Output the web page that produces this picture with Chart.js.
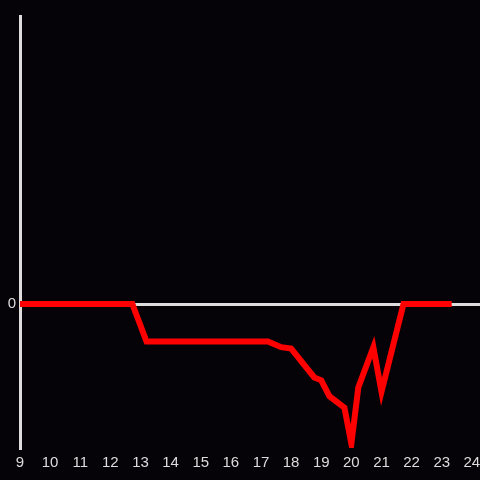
<!DOCTYPE html>
<html>
<head>
<meta charset="utf-8">
<script src="https://cdn.jsdelivr.net/npm/chart.js@4"></script>
<style>
    html, body { margin: 0; padding: 0; background: #050308; }
    #wrap { width: 480px; height: 480px; }
</style>
</head>
<body>
<div id="wrap"><canvas id="myChart"></canvas></div>
<script>
// hours of the day and the value read at each of them
const hours = [9, 12.73, 13.2, 17.23, 17.67, 18.0, 18.77, 19.0, 19.27, 19.77, 20.0, 20.23, 20.73, 21.0, 21.73, 23.33];
const values = [0, 0, -0.26, -0.26, -0.3, -0.31, -0.51, -0.53, -0.64, -0.72, -0.97, -0.58, -0.3, -0.61, 0, 0];
const xTicks = [9, 10, 11, 12, 13, 14, 15, 16, 17, 18, 19, 20, 21, 22, 23, 24];
const yTicks = [0];

const axisColor = '#dddddd';

let ctx = document.getElementById('myChart').getContext('2d');

let chart = new Chart(ctx, {
    type: 'line',
    data: {
        datasets: [{
            data: hours.map((h, i) => ({ x: h, y: values[i] })),
            borderColor: '#ff0000',
            borderWidth: 6,
            pointRadius: 0,
            tension: 0,
            fill: false
        }]
    },
    options: {
        responsive: true,
        maintainAspectRatio: false,
        animation: false,
        layout: {
            padding: { top: 16, right: 0, left: 0, bottom: 0 }
        },
        plugins: {
            legend: { display: false },
            tooltip: { enabled: false }
        },
        scales: {
            x: {
                type: 'linear',
                min: 9,
                max: 24.27,
                afterBuildTicks: axis => {
                    axis.ticks = xTicks.map(v => ({ value: v }));
                },
                afterFit: axis => { axis.height = 32; },
                grid: { display: false },
                border: { display: false },
                ticks: {
                    color: axisColor,
                    font: { family: 'Liberation Sans', size: 15 },
                    padding: -2,
                    maxRotation: 0,
                    autoSkip: false
                }
            },
            y: {
                min: -1,
                max: 2,
                afterBuildTicks: axis => {
                    axis.ticks = yTicks.map(v => ({ value: v }));
                },
                afterFit: axis => { axis.width = 20; },
                grid: {
                    color: axisColor,
                    lineWidth: 3,
                    drawTicks: false
                },
                border: {
                    display: true,
                    color: axisColor,
                    width: 3
                },
                ticks: {
                    color: axisColor,
                    font: { family: 'Liberation Sans', size: 15 },
                    padding: 4
                }
            }
        }
    }
});
</script>
</body>
</html>
